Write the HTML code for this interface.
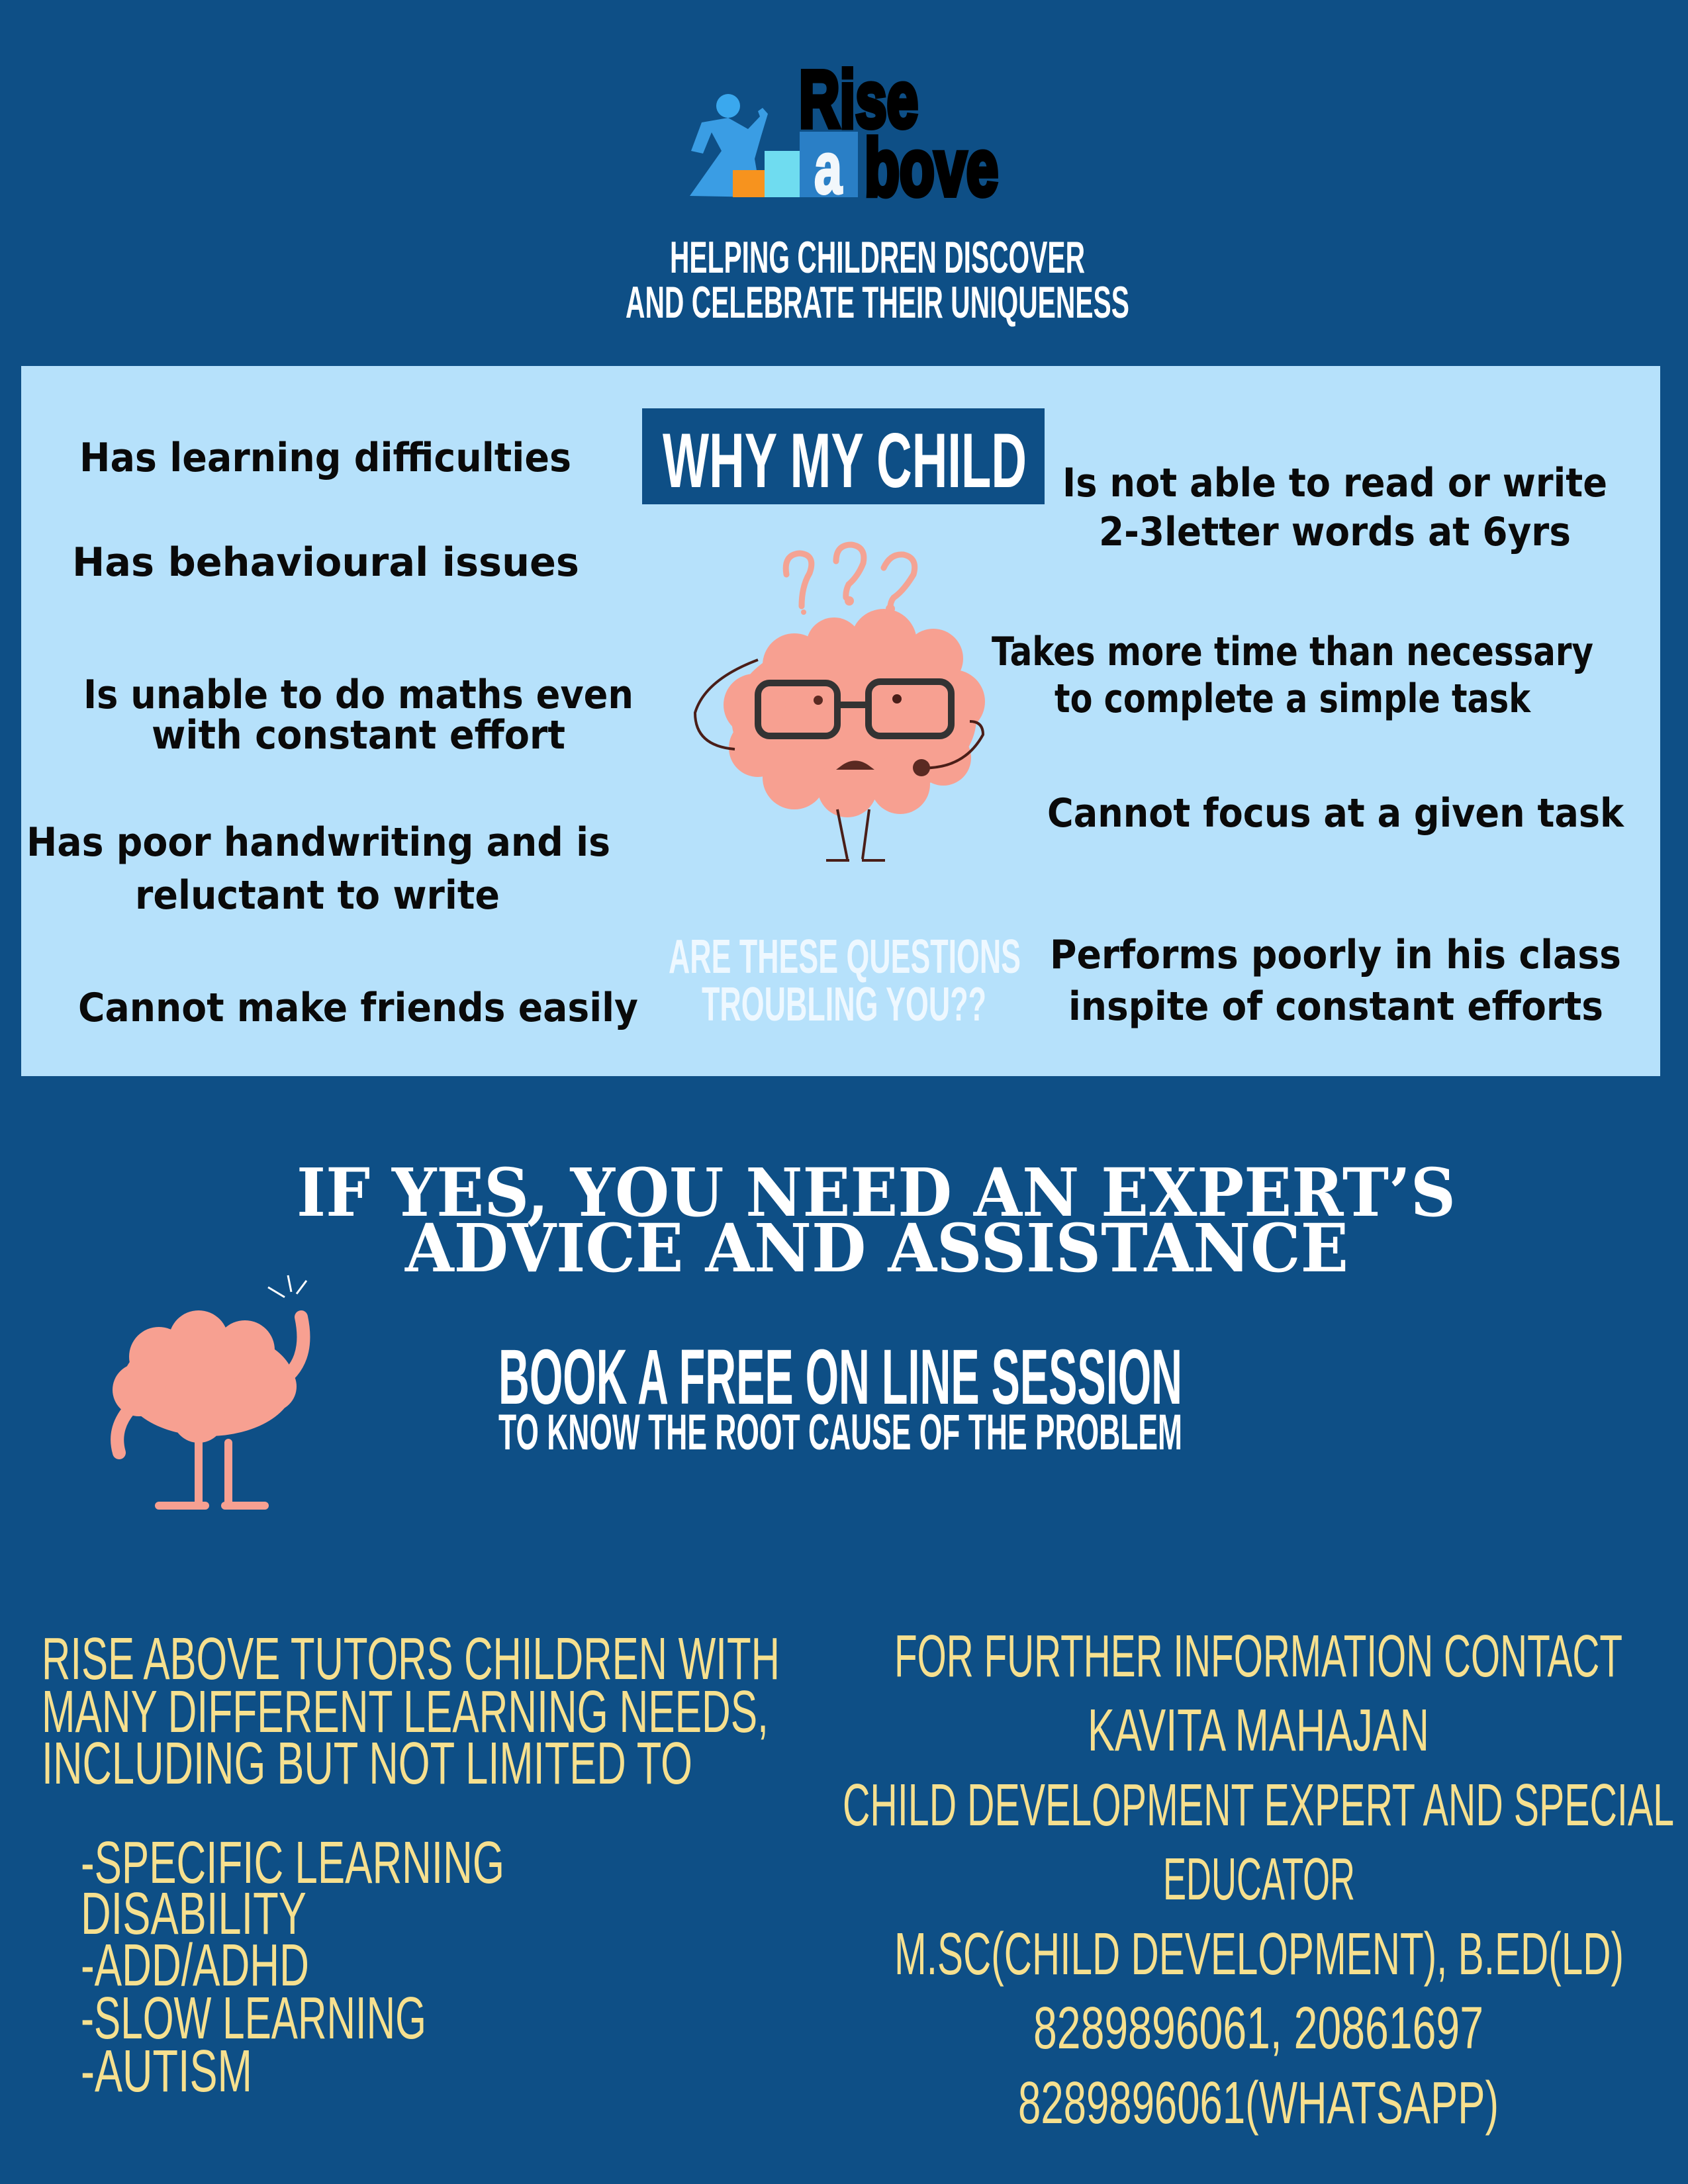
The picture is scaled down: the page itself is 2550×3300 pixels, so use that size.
<!DOCTYPE html>
<html><head><meta charset="utf-8"><style>
html,body{margin:0;padding:0;background:#0e4f86;}
svg{display:block}
.b{font-family:"DejaVu Sans","Liberation Sans",sans-serif;font-weight:bold;font-size:60px;fill:#0a0a0a}
.c{font-family:"Liberation Sans Narrow","Liberation Sans",sans-serif;font-weight:bold}
.y{font-family:"Liberation Sans Narrow","Liberation Sans",sans-serif;fill:#f6e08f;font-size:90px}
.s{font-family:"DejaVu Serif","Liberation Serif",serif;font-weight:bold;fill:#fff;font-size:100px}
</style></head><body>
<svg width="2550" height="3300" viewBox="0 0 2550 3300">
<rect width="2550" height="3300" fill="#0e4f86"/>
<g>
 <path d="M1042 296 L1090 228 L1075 200 L1062 232 L1044 228 L1060 185 L1100 178 L1130 195 L1148 176 L1145 168 L1152 163 L1160 172 L1150 205 L1140 240 L1150 298 Z" fill="#3a9de4"/>
 <circle cx="1100" cy="160" r="18" fill="#3aa8ee"/>
 <rect x="1107" y="257" width="48" height="41" fill="#f7931e"/>
 <rect x="1155" y="228" width="53" height="70" fill="#6fdcf0"/>
 <rect x="1208" y="199" width="88" height="99" fill="#2a7fc6"/>
 <text x="1230" y="292" fill="#f2f7fb" stroke="#f2f7fb" stroke-width="4" class="c" font-size="110" textLength="42" lengthAdjust="spacingAndGlyphs">a</text>
 <text x="1207" y="192" fill="#000" stroke="#000" stroke-width="8" class="c" font-size="122" textLength="180" lengthAdjust="spacingAndGlyphs">Rise</text>
 <text x="1306" y="295" fill="#000" stroke="#000" stroke-width="8" class="c" font-size="122" textLength="202" lengthAdjust="spacingAndGlyphs">bove</text>
</g>
<text class="c" fill="#fff" font-size="68" x="1012" y="412" textLength="627" lengthAdjust="spacingAndGlyphs">HELPING CHILDREN DISCOVER</text>
<text class="c" fill="#fff" font-size="68" x="945" y="480" textLength="761" lengthAdjust="spacingAndGlyphs">AND CELEBRATE THEIR UNIQUENESS</text>

<rect x="32" y="553" width="2476" height="1073" fill="#b6e1fb"/>
<rect x="970" y="617" width="608" height="145" fill="#0e4f86"/>
<text class="c" fill="#fff" font-size="117" x="1001" y="736" textLength="550" lengthAdjust="spacingAndGlyphs">WHY MY CHILD</text>

<g>
<text class="b" x="120" y="712" textLength="743" lengthAdjust="spacingAndGlyphs">Has learning difficulties</text>
<text class="b" x="109" y="870" textLength="766" lengthAdjust="spacingAndGlyphs">Has behavioural issues</text>
<text class="b" x="126" y="1070" textLength="831" lengthAdjust="spacingAndGlyphs">Is unable to do maths even</text>
<text class="b" x="229" y="1131" textLength="625" lengthAdjust="spacingAndGlyphs">with constant effort</text>
<text class="b" x="40" y="1293" textLength="882" lengthAdjust="spacingAndGlyphs">Has poor handwriting and is</text>
<text class="b" x="204" y="1373" textLength="551" lengthAdjust="spacingAndGlyphs">reluctant to write</text>
<text class="b" x="118" y="1543" textLength="846" lengthAdjust="spacingAndGlyphs">Cannot make friends easily</text>
</g>
<g>
<text class="b" x="1605" y="750" textLength="823" lengthAdjust="spacingAndGlyphs">Is not able to read or write</text>
<text class="b" x="1660" y="824" textLength="713" lengthAdjust="spacingAndGlyphs">2-3letter words at 6yrs</text>
<text class="b" x="1498" y="1005" textLength="909" lengthAdjust="spacingAndGlyphs">Takes more time than necessary</text>
<text class="b" x="1593" y="1076" textLength="719" lengthAdjust="spacingAndGlyphs">to complete a simple task</text>
<text class="b" x="1582" y="1249" textLength="871" lengthAdjust="spacingAndGlyphs">Cannot focus at a given task</text>
<text class="b" x="1586" y="1463" textLength="863" lengthAdjust="spacingAndGlyphs">Performs poorly in his class</text>
<text class="b" x="1614" y="1541" textLength="808" lengthAdjust="spacingAndGlyphs">inspite of constant efforts</text>
</g>
<text class="c" fill="#eef8ff" font-size="72" x="1010" y="1470" textLength="532" lengthAdjust="spacingAndGlyphs">ARE THESE QUESTIONS</text>
<text class="c" fill="#eef8ff" font-size="72" x="1060" y="1542" textLength="430" lengthAdjust="spacingAndGlyphs">TROUBLING YOU??</text>

<g>
 <g fill="none" stroke="#f4a393" stroke-width="9" stroke-linecap="round">
  <path d="M1188 868 q-5 -30 20 -32 q25 2 15 30 q-12 20 -12 50"/>
  <path d="M1263 848 q0 -25 23 -25 q23 3 18 28 q-8 20 -22 32 q-5 10 -4 20"/>
  <path d="M1335 858 q10 -22 30 -20 q22 5 15 30 q-15 25 -30 35 q-5 6 -5 15"/>
 </g>
 <circle cx="1214" cy="925" r="4" fill="#f4a393"/><circle cx="1283" cy="908" r="7" fill="#f4a393"/><circle cx="1345" cy="920" r="7" fill="#f4a393"/>
 <g fill="#f7a091">
  <ellipse cx="1290" cy="1085" rx="185" ry="125"/>
  <circle cx="1200" cy="1005" r="48"/><circle cx="1260" cy="975" r="42"/><circle cx="1335" cy="970" r="50"/><circle cx="1410" cy="995" r="45"/>
  <circle cx="1440" cy="1060" r="48"/><circle cx="1140" cy="1065" r="47"/><circle cx="1145" cy="1130" r="44"/><circle cx="1200" cy="1175" r="48"/>
  <circle cx="1280" cy="1190" r="45"/><circle cx="1360" cy="1185" r="45"/><circle cx="1425" cy="1145" r="42"/>
 </g>
 <g fill="none" stroke="#333" stroke-width="10">
  <rect x="1145" y="1032" width="120" height="80" rx="18"/>
  <rect x="1312" y="1030" width="125" height="82" rx="18"/>
  <path d="M1265 1065 H1312"/>
 </g>
 <circle cx="1236" cy="1058" r="7" fill="#5a2a22"/><circle cx="1355" cy="1056" r="7" fill="#4a1e18"/>
 <path d="M1272 1160 q20 -15 40 0 z" fill="#5a2a22" stroke="#5a2a22" stroke-width="6"/>
 <path d="M1145 997 q-80 30 -95 80 q0 50 60 55" fill="none" stroke="#4a1e18" stroke-width="4"/>
 <path d="M1385 1160 q70 5 100 -50 q0 -20 -20 -20" fill="none" stroke="#4a1e18" stroke-width="4"/>
 <circle cx="1392" cy="1160" r="13" fill="#5a2a22"/>
 <path d="M1265 1223 l15 75 M1313 1223 l-10 75 M1248 1300 h35 M1302 1300 h35" stroke="#4a1e18" stroke-width="4"/>
</g>

<text class="s" x="448" y="1837" textLength="1751" lengthAdjust="spacingAndGlyphs">IF YES, YOU NEED AN EXPERT’S</text>
<text class="s" x="612" y="1921" textLength="1425" lengthAdjust="spacingAndGlyphs">ADVICE AND ASSISTANCE</text>

<g>
 <g fill="#f7a091">
  <ellipse cx="315" cy="2090" rx="130" ry="80"/>
  <circle cx="240" cy="2050" r="45"/><circle cx="300" cy="2025" r="45"/><circle cx="370" cy="2040" r="45"/><circle cx="210" cy="2100" r="40"/><circle cx="410" cy="2095" r="38"/><circle cx="300" cy="2140" r="40"/>
 </g>
 <path d="M420 2090 q50 -30 35 -100" fill="none" stroke="#f7a091" stroke-width="20" stroke-linecap="round"/>
 <path d="M195 2130 q-25 30 -15 65" fill="none" stroke="#f7a091" stroke-width="20" stroke-linecap="round"/>
 <path d="M300 2180 v95 M345 2180 v95 M240 2275 h70 M340 2275 h60" stroke="#f7a091" stroke-width="12" stroke-linecap="round"/>
 <path d="M430 1960 l-25 -15 M440 1952 l-5 -25 M448 1955 l15 -20" stroke="#fff" stroke-width="3"/>
</g>
<text class="c" fill="#fff" font-size="118" x="753" y="2121" textLength="1033" lengthAdjust="spacingAndGlyphs">BOOK A FREE ON LINE SESSION</text>
<text class="c" fill="#fff" font-size="76" x="753" y="2190" textLength="1033" lengthAdjust="spacingAndGlyphs">TO KNOW THE ROOT CAUSE OF THE PROBLEM</text>

<g>
<text class="y" x="63" y="2537" textLength="1115" lengthAdjust="spacingAndGlyphs">RISE ABOVE TUTORS CHILDREN WITH</text>
<text class="y" x="63" y="2617" textLength="1098" lengthAdjust="spacingAndGlyphs">MANY DIFFERENT LEARNING NEEDS,</text>
<text class="y" x="63" y="2695" textLength="983" lengthAdjust="spacingAndGlyphs">INCLUDING BUT NOT LIMITED TO</text>
<text class="y" x="122" y="2845" textLength="640" lengthAdjust="spacingAndGlyphs">-SPECIFIC LEARNING</text>
<text class="y" x="122" y="2922" textLength="341" lengthAdjust="spacingAndGlyphs">DISABILITY</text>
<text class="y" x="122" y="3000" textLength="345" lengthAdjust="spacingAndGlyphs">-ADD/ADHD</text>
<text class="y" x="122" y="3080" textLength="522" lengthAdjust="spacingAndGlyphs">-SLOW LEARNING</text>
<text class="y" x="122" y="3160" textLength="259" lengthAdjust="spacingAndGlyphs">-AUTISM</text>
</g>
<g>
<text class="y" x="1351" y="2533" textLength="1100" lengthAdjust="spacingAndGlyphs">FOR FURTHER INFORMATION CONTACT</text>
<text class="y" x="1643" y="2645" textLength="516" lengthAdjust="spacingAndGlyphs">KAVITA MAHAJAN</text>
<text class="y" x="1273" y="2758" textLength="1256" lengthAdjust="spacingAndGlyphs">CHILD DEVELOPMENT EXPERT AND SPECIAL</text>
<text class="y" x="1757" y="2870" textLength="290" lengthAdjust="spacingAndGlyphs">EDUCATOR</text>
<text class="y" x="1351" y="2983" textLength="1102" lengthAdjust="spacingAndGlyphs">M.SC(CHILD DEVELOPMENT), B.ED(LD)</text>
<text class="y" x="1561" y="3095" textLength="680" lengthAdjust="spacingAndGlyphs">8289896061, 20861697</text>
<text class="y" x="1538" y="3208" textLength="726" lengthAdjust="spacingAndGlyphs">8289896061(WHATSAPP)</text>
</g>
</svg>
</body></html>
